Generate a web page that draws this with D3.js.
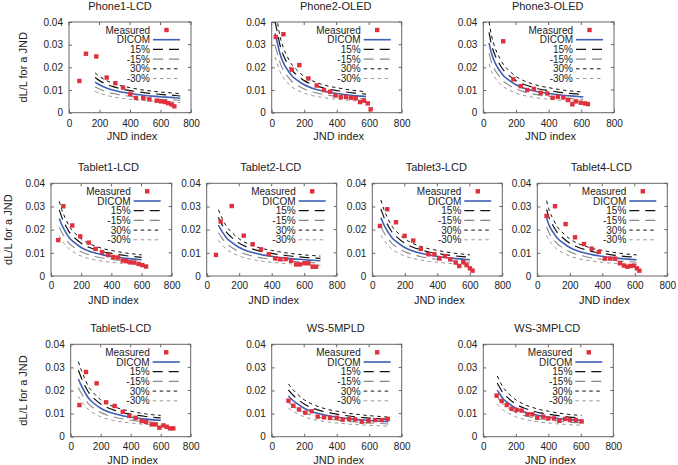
<!DOCTYPE html>
<html><head><meta charset="utf-8">
<script src="https://cdn.jsdelivr.net/npm/d3@7"></script>
<style>
body{margin:0;background:#fff}
svg{display:block}
text{font-family:"Liberation Sans",Arial,Helvetica,sans-serif;font-weight:normal;fill:#222}
</style>
</head><body>
<svg id="chart" width="678" height="465"></svg>
<script>
// ---------------- data ----------------
const titles = ["Phone1-LCD","Phone2-OLED","Phone3-OLED","Tablet1-LCD","Tablet2-LCD","Tablet3-LCD","Tablet4-LCD","Tablet5-LCD","WS-5MPLD","WS-3MPLCD"];
const xTicks = [0,200,400,600,800];
const yTicks = [0,0.01,0.02,0.03,0.04];
const yTickLabels = ["0","0.01","0.02","0.03","0.04"];
const xLabel = "JND index";
const yLabel = "dL/L for a JND";
const legendLabels = ["Measured","DICOM","15%","-15%","30%","-30%"];
const bandFactors = [1.15, 0.85, 1.30, 0.70]; // 15%, -15%, 30%, -30% of DICOM

// measured dL/L per JND step [JND index, dL/L]
const measuredPhone1 = [[68,0.0140],[111,0.0260],[179,0.0248],[247,0.0155],[304,0.0130],[354,0.0111],[402,0.0083],[439,0.0065],[487,0.0064],[527,0.0059],[575,0.0053],[603,0.0050],[630,0.0047],[651,0.0042],[673,0.0036],[691,0.0028]];
const measuredPhone2 = [[25,0.0334],[72,0.0346],[123,0.0190],[170,0.0210],[226,0.0151],[277,0.0120],[322,0.0100],[359,0.0092],[392,0.0076],[425,0.0069],[457,0.0069],[488,0.0066],[517,0.0064],[544,0.0047],[568,0.0053],[591,0.0041],[609,0.0015]];
const measuredPhone3 = [[122,0.0315],[184,0.0147],[229,0.0117],[269,0.0100],[310,0.0105],[351,0.0088],[392,0.0085],[424,0.0066],[457,0.0070],[490,0.0067],[520,0.0056],[545,0.0037],[567,0.0050],[596,0.0044],[622,0.0041],[640,0.0038]];
const measuredTablet1 = [[48,0.0155],[82,0.0301],[141,0.0218],[194,0.0171],[250,0.0144],[296,0.0117],[338,0.0103],[380,0.0090],[413,0.0082],[444,0.0080],[475,0.0067],[499,0.0064],[526,0.0059],[552,0.0058],[581,0.0052],[605,0.0047],[630,0.0041]];
const measuredTablet2 = [[57,0.0091],[86,0.0235],[154,0.0302],[228,0.0174],[283,0.0137],[334,0.0115],[382,0.0094],[421,0.0076],[453,0.0072],[486,0.0073],[519,0.0066],[550,0.0050],[574,0.0050],[601,0.0055],[626,0.0055],[652,0.0040],[673,0.0040]];
const measuredTablet3 = [[47,0.0216],[92,0.0288],[146,0.0232],[199,0.0173],[252,0.0153],[299,0.0117],[345,0.0094],[382,0.0094],[412,0.0076],[447,0.0086],[480,0.0072],[513,0.0058],[535,0.0043],[560,0.0060],[580,0.0047],[601,0.0033],[617,0.0023]];
const measuredTablet4 = [[57,0.0259],[109,0.0301],[174,0.0224],[232,0.0167],[287,0.0138],[334,0.0118],[379,0.0104],[416,0.0075],[449,0.0075],[478,0.0075],[509,0.0055],[533,0.0045],[554,0.0040],[574,0.0043],[595,0.0045],[613,0.0033],[628,0.0023]];
const measuredTablet5 = [[58,0.0137],[102,0.0280],[173,0.0231],[236,0.0149],[293,0.0133],[347,0.0108],[391,0.0090],[433,0.0082],[473,0.0068],[502,0.0064],[540,0.0053],[567,0.0053],[591,0.0039],[618,0.0049],[640,0.0043],[662,0.0036],[684,0.0036]];
const measuredWS5 = [[103,0.0156],[133,0.0134],[168,0.0118],[207,0.0104],[246,0.0110],[283,0.0087],[322,0.0084],[359,0.0081],[400,0.0082],[437,0.0074],[476,0.0077],[513,0.0075],[554,0.0065],[595,0.0068],[636,0.0072],[677,0.0072],[714,0.0077]];
const measuredWS3 = [[82,0.0178],[113,0.0155],[144,0.0137],[174,0.0121],[205,0.0116],[236,0.0113],[271,0.0097],[302,0.0097],[332,0.0082],[369,0.0087],[400,0.0079],[435,0.0079],[468,0.0069],[503,0.0077],[533,0.0072],[570,0.0072],[605,0.0066]];

// DICOM target dL/L per JND over each display's range [JND index, dL/L]
const dicomPhone1 = [[171,0.0135],[200,0.0123],[250,0.0108],[300,0.0098],[350,0.0090],[400,0.0085],[450,0.0080],[500,0.0076],[550,0.0073],[600,0.0070],[650,0.0068],[700,0.0066],[730,0.0064]];
const dicomPhone2 = [[20,0.0350],[35,0.0308],[50,0.0262],[72,0.0220],[100,0.0186],[125,0.0162],[150,0.0147],[200,0.0123],[250,0.0108],[300,0.0098],[350,0.0090],[400,0.0085],[450,0.0080],[500,0.0076],[550,0.0073],[580,0.0071]];
const dicomPhone3 = [[35,0.0308],[50,0.0262],[72,0.0220],[100,0.0186],[125,0.0162],[150,0.0147],[200,0.0123],[250,0.0108],[300,0.0098],[350,0.0090],[400,0.0085],[450,0.0080],[500,0.0076],[550,0.0073],[612,0.0070]];
const dicomTablet1 = [[55,0.0248],[72,0.0220],[100,0.0186],[125,0.0162],[150,0.0147],[200,0.0123],[250,0.0108],[300,0.0098],[350,0.0090],[400,0.0085],[450,0.0080],[500,0.0076],[550,0.0073],[601,0.0070]];
const dicomTablet2 = [[72,0.0220],[100,0.0186],[125,0.0162],[150,0.0147],[200,0.0123],[250,0.0108],[300,0.0098],[350,0.0090],[400,0.0085],[450,0.0080],[500,0.0076],[550,0.0073],[600,0.0070],[650,0.0068],[700,0.0066]];
const dicomTablet3 = [[53,0.0252],[72,0.0220],[100,0.0186],[125,0.0162],[150,0.0147],[200,0.0123],[250,0.0108],[300,0.0098],[350,0.0090],[400,0.0085],[450,0.0080],[500,0.0076],[550,0.0073],[601,0.0070]];
const dicomTablet4 = [[57,0.0250],[72,0.0220],[100,0.0186],[125,0.0162],[150,0.0147],[200,0.0123],[250,0.0108],[300,0.0098],[350,0.0090],[400,0.0085],[450,0.0080],[500,0.0076],[550,0.0073],[611,0.0070]];
const dicomTablet5 = [[51,0.0250],[72,0.0220],[100,0.0186],[125,0.0162],[150,0.0147],[200,0.0123],[250,0.0108],[300,0.0098],[350,0.0090],[400,0.0085],[450,0.0080],[500,0.0076],[550,0.0073],[600,0.0071]];
const dicomWS5 = [[103,0.0176],[125,0.0160],[150,0.0146],[200,0.0123],[250,0.0108],[300,0.0098],[350,0.0090],[400,0.0085],[450,0.0080],[500,0.0076],[550,0.0073],[600,0.0070],[650,0.0068],[718,0.0065]];
const dicomWS3 = [[86,0.0202],[100,0.0186],[125,0.0162],[150,0.0147],[200,0.0123],[250,0.0108],[300,0.0098],[350,0.0090],[400,0.0085],[450,0.0080],[500,0.0076],[550,0.0073],[605,0.0071]];

const measuredAll = [measuredPhone1,measuredPhone2,measuredPhone3,measuredTablet1,measuredTablet2,measuredTablet3,measuredTablet4,measuredTablet5,measuredWS5,measuredWS3];
const dicomAll = [dicomPhone1,dicomPhone2,dicomPhone3,dicomTablet1,dicomTablet2,dicomTablet3,dicomTablet4,dicomTablet5,dicomWS5,dicomWS3];

// ---------------- layout ----------------
const layout = [
  {l:69,    r:191,   t:22,    b:112.7, tdx:-10, ylab:27},
  {l:271.7, r:401.7, t:22,    b:112.7, tdx:-1},
  {l:483.3, r:614,   t:22,    b:112.7, tdx:-1},
  {l:51,    r:171.7, t:183.3, b:276,   tdx:-3, ylab:12},
  {l:206.7, r:336.7, t:183.3, b:276,   tdx:-1},
  {l:372.3, r:502.3, t:183.3, b:276,   tdx:-1},
  {l:537.3, r:667.3, t:183.3, b:276,   tdx:-1},
  {l:70.7,  r:190.7, t:344.3, b:436.7, tdx:-10, ylab:27},
  {l:271.7, r:401.7, t:344.3, b:436.7, tdx:-1},
  {l:483.3, r:613.3, t:344.3, b:436.7, tdx:-1}
];

const RED = "#e0303c", BLUE = "#3f5fb5";
const bandStyles = [
  {stroke:"#111", w:1.2, dash:"10,6"},
  {stroke:"#888", w:1.1, dash:"10,6"},
  {stroke:"#111", w:1.0, dash:"3.5,3.5"},
  {stroke:"#999", w:1.0, dash:"3.5,3.5"}
];

const svg = d3.select("#chart");

layout.forEach((p, i) => {
  const g = svg.append("g");
  const x = d3.scaleLinear().domain([0,800]).range([p.l, p.r]);
  const y = d3.scaleLinear().domain([0,0.04]).range([p.b, p.t]);
  const clipId = "clip" + i;
  svg.append("clipPath").attr("id", clipId).append("rect")
    .attr("x", p.l).attr("y", p.t).attr("width", p.r - p.l).attr("height", p.b - p.t);

  const row1 = p.t < 50;
  const ax = g.append("g").attr("transform", `translate(0,${p.b})`)
    .call(d3.axisBottom(x).tickValues(xTicks).tickFormat(d => d).tickSizeInner(-3).tickSizeOuter(0).tickPadding(row1 ? 7 : 6));
  const ay = g.append("g").attr("transform", `translate(${p.l},0)`)
    .call(d3.axisLeft(y).tickValues(yTicks).tickFormat((d, k) => yTickLabels[k]).tickSizeInner(-3).tickSizeOuter(0).tickPadding(6));
  [ax, ay].forEach(a => {
    a.select(".domain").remove();
    a.selectAll("line").attr("stroke", "#666");
    a.selectAll("text").attr("font-size", 10).attr("fill", "#222")
      .style("font-family", '"Liberation Sans",Arial,sans-serif');
  });
  g.selectAll(".mt").data(xTicks).enter().append("line")
    .attr("x1", d => x(d)).attr("x2", d => x(d)).attr("y1", p.t).attr("y2", p.t + 3).attr("stroke", "#666");
  g.selectAll(".mr").data(yTicks).enter().append("line")
    .attr("x1", p.r).attr("x2", p.r - 3).attr("y1", d => y(d)).attr("y2", d => y(d)).attr("stroke", "#666");
  g.append("rect").attr("x", p.l).attr("y", p.t).attr("width", p.r - p.l).attr("height", p.b - p.t)
    .attr("fill", "none").attr("stroke", "#666").attr("stroke-width", 1);

  g.append("text").attr("x", (p.l + p.r) / 2 + p.tdx).attr("y", p.t - 12.5)
    .attr("text-anchor", "middle").attr("font-size", 11).text(titles[i]);
  g.append("text").attr("x", (p.l + p.r) / 2 + 2).attr("y", p.b + 27.5)
    .attr("text-anchor", "middle").attr("font-size", 11).text(xLabel);
  if (p.ylab !== undefined) {
    g.append("text").attr("transform", `translate(${p.ylab},${(p.t + p.b) / 2}) rotate(-90)`)
      .attr("text-anchor", "middle").attr("font-size", 11).text(yLabel);
  }

  const plot = g.append("g").attr("clip-path", `url(#${clipId})`);
  const dicom = dicomAll[i];
  const line = d3.line().x(d => x(d[0])).y(d => y(d[1])).curve(d3.curveMonotoneX);

  bandFactors.forEach((f, k) => {
    const s = bandStyles[k];
    plot.append("path").datum(dicom)
      .attr("d", d3.line().x(d => x(d[0])).y(d => y(d[1] * f)).curve(d3.curveMonotoneX))
      .attr("fill", "none").attr("stroke", s.stroke).attr("stroke-width", s.w).attr("stroke-dasharray", s.dash);
  });
  plot.append("path").datum(dicom).attr("d", line)
    .attr("fill", "none").attr("stroke", BLUE).attr("stroke-width", 1.6);

  const ms = 4.4;
  plot.selectAll(".pt").data(measuredAll[i]).enter().append("rect")
    .attr("x", d => x(d[0]) - ms / 2).attr("y", d => y(d[1]) - ms / 2)
    .attr("width", ms).attr("height", ms).attr("fill", RED);

  const lg = g.append("g");
  const textR = p.r - 41, s0 = p.r - 38, s1 = p.r - 11;
  legendLabels.forEach((lab, k) => {
    const cy = p.t + 8 + k * 9.7;
    lg.append("text").attr("x", textR).attr("y", cy).attr("dy", "0.35em")
      .attr("text-anchor", "end").attr("font-size", 10).text(lab);
    if (k === 0) {
      lg.append("rect").attr("x", (s0 + s1) / 2 - ms / 2).attr("y", cy - ms / 2)
        .attr("width", ms).attr("height", ms).attr("fill", RED);
    } else if (k === 1) {
      lg.append("line").attr("x1", s0).attr("x2", s1).attr("y1", cy).attr("y2", cy)
        .attr("stroke", BLUE).attr("stroke-width", 1.6);
    } else {
      const s = bandStyles[k - 2];
      lg.append("line").attr("x1", s0).attr("x2", s1).attr("y1", cy).attr("y2", cy)
        .attr("stroke", s.stroke).attr("stroke-width", s.w).attr("stroke-dasharray", s.dash);
    }
  });
});
</script>
</body></html>
